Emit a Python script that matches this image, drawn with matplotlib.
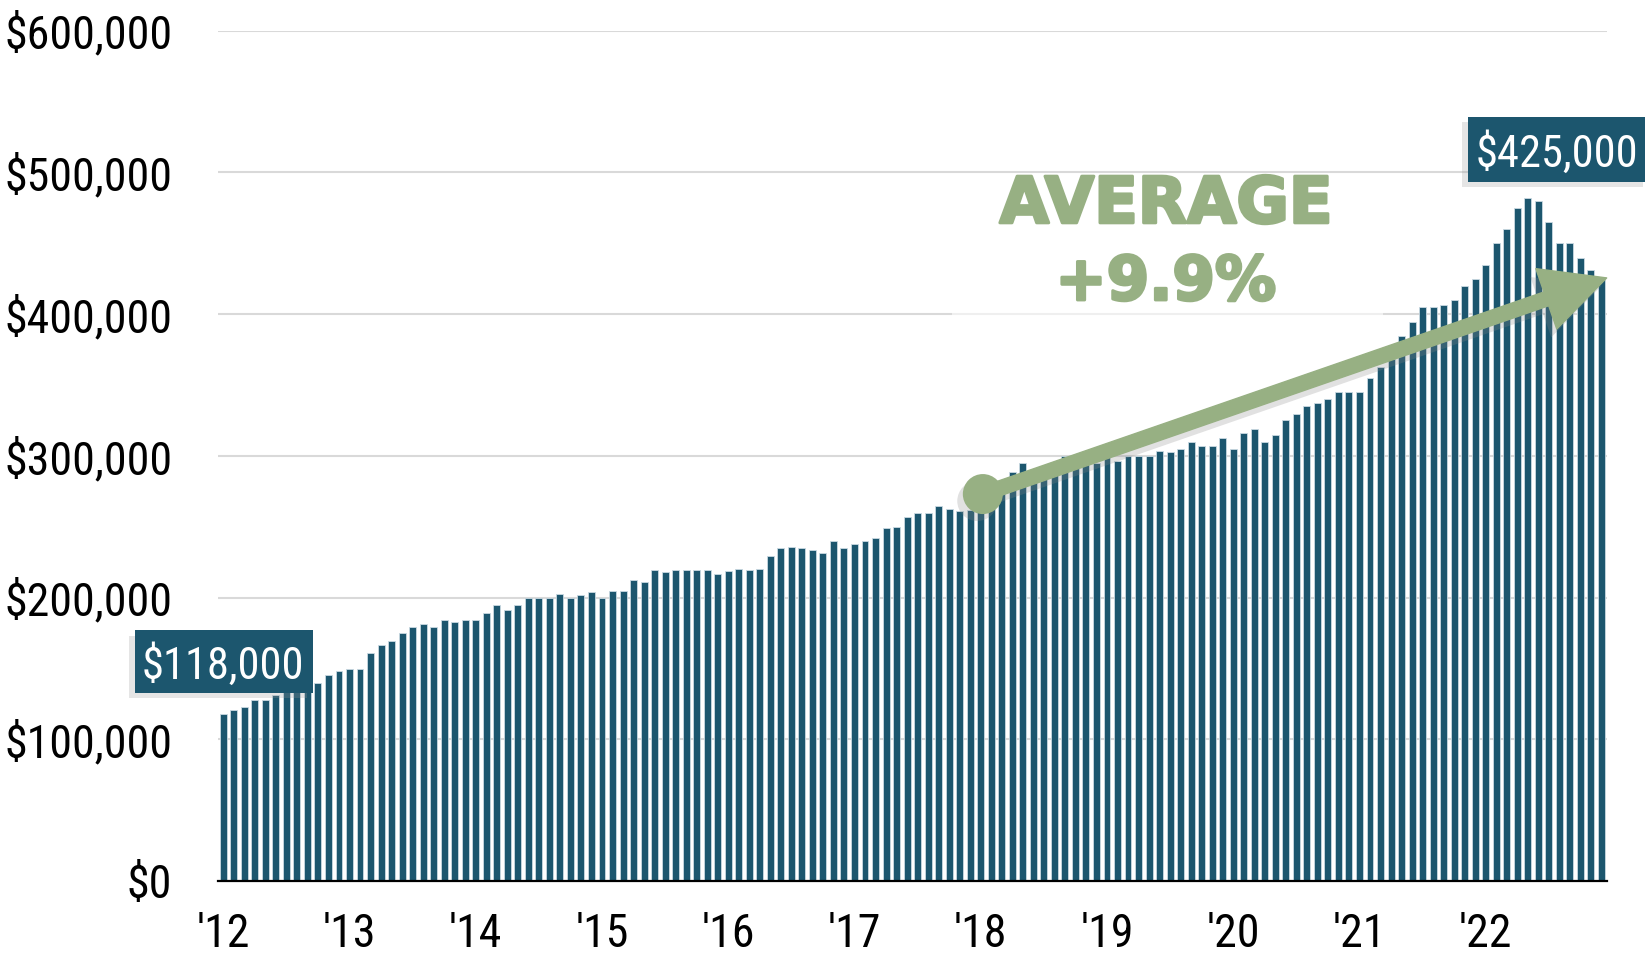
import matplotlib
matplotlib.use("Agg")
import matplotlib.pyplot as plt
from matplotlib.patches import Rectangle, FancyArrowPatch
import matplotlib.patheffects as pe
from matplotlib.ticker import FuncFormatter
from matplotlib import font_manager as fm

# ---------------- data (monthly median price, thousands of $) ----------------
years = ["'12", "'13", "'14", "'15", "'16", "'17", "'18", "'19", "'20", "'21", "'22"]
prices_k = [
    118, 120.7, 122.6, 127.7, 127.7, 131.3, 133, 135, 137, 139.7, 145.4, 148.4,
    149.6, 149.6, 160.7, 166.5, 169.6, 174.8, 179.5, 181.4, 179.5, 184.4, 182.6, 184.4,
    184.4, 189.4, 194.4, 191.5, 194.5, 199.5, 199.7, 199.7, 202.3, 199.5, 201.6, 203.7,
    199.7, 204.7, 204.7, 212.2, 210.8, 219.7, 217.8, 219.7, 219.7, 219.7, 219.7, 216.9,
    218.8, 220.2, 219.7, 220.4, 229.0, 234.8, 235.7, 234.8, 233.4, 231.7, 239.7, 234.8,
    237.8, 239.7, 241.8, 248.9, 249.6, 257.1, 259.5, 259.5, 264.8, 262.7, 261.1, 262.0,
    265.0, 270.0, 276.0, 288.9, 294.8, 288.0, 290.0, 295.0, 299.9, 297.0, 300.0, 295.0,
    299.0, 296.0, 299.9, 299.9, 299.9, 303.7, 302.8, 304.9, 309.6, 306.8, 306.8, 312.6,
    304.9, 315.9, 318.8, 309.8, 315.0, 325.1, 329.8, 335.0, 337.1, 339.9, 344.9, 344.9,
    344.9, 354.8, 362.7, 368.4, 384.6, 394.7, 404.9, 404.9, 406.3, 409.8, 419.9, 424.8,
    434.7, 450.0, 459.9, 474.7, 481.8, 480.1, 464.9, 450.0, 450.0, 439.9, 431.0, 425.0,
]
prices = [v * 1000 for v in prices_k]
start_label = "$118,000"
end_label = "$425,000"
avg_text = ["AVERAGE", "+9.9%"]
y_ticks = [0, 100000, 200000, 300000, 400000, 500000, 600000]

# ---------------- style ----------------
BAR = "#1c566e"
GREEN = "#97b083"

# look for a narrow / condensed sans font; fall back to Liberation Sans at a smaller size
narrow = None
pref_words = ["Liberation Sans Narrow", "Arial Narrow", "Roboto Condensed", "Open Sans Condensed",
              "Noto Sans Condensed", "DejaVu Sans Condensed"]
ttf = fm.fontManager.ttflist
for w in pref_words:
    for f in ttf:
        if f.name == w and f.weight in (400, "normal", "regular") and f.style == "normal":
            narrow = f
            break
    if narrow:
        break
if narrow is None:
    for f in ttf:
        if (f.stretch in ("condensed", "semi-condensed") or "Condensed" in f.name or "Narrow" in f.name) \
                and f.style == "normal" and f.weight in (400, "normal", "regular") and "Mono" not in f.name \
                and "Serif" not in f.name:
            narrow = f
            break

if narrow is not None:
    LBL = dict(fontproperties=fm.FontProperties(fname=narrow.fname))
    TICK_SIZE, BOX_SIZE = 33, 32
else:
    LBL = dict(fontproperties=fm.FontProperties(family="Liberation Sans"))
    TICK_SIZE, BOX_SIZE = 29, 27.5

fig = plt.figure(figsize=(16.45, 9.6), dpi=100)
ax = fig.add_axes([218 / 1645, 1 - 881 / 960, 1388.7 / 1645, (881 - 30.6) / 960])

x = list(range(len(prices)))
ax.bar(x, prices, width=0.66, color=BAR, edgecolor="#c9d9e2", linewidth=0.6, zorder=3)

ax.set_xlim(-0.5, len(prices) - 0.5)
ax.set_ylim(0, 600000)
ax.set_yticks(y_ticks)
ax.yaxis.set_major_formatter(FuncFormatter(lambda v, p: f"${v:,.0f}"))
ax.set_xticks(list(range(0, len(prices), 12)))
ax.set_xticklabels(years)
for lab in ax.get_xticklabels() + ax.get_yticklabels():
    lab.set_fontproperties(LBL["fontproperties"].copy())
    lab.set_fontsize(TICK_SIZE)
    lab.set_color("black")
ax.tick_params(axis="y", length=0, pad=33)
ax.tick_params(axis="x", length=0, pad=22)
ax.grid(axis="y", color="#d9d9d9", linewidth=1.5, zorder=0)
ax.set_axisbelow(True)
for s in ["left", "right", "top"]:
    ax.spines[s].set_visible(False)
ax.spines["bottom"].set_color("black")
ax.spines["bottom"].set_linewidth(1.6)
ax.spines["bottom"].set_zorder(4)

# white veil behind the annotation text
ax.add_patch(Rectangle((69.3, 398000), 40.9, 98000, facecolor="white", alpha=0.6,
                       edgecolor="none", zorder=1))

# ---------------- value boxes ----------------
def value_box(x0, x1, y0, y1, text, tx, ty):
    r = Rectangle((x0, y0), x1 - x0, y1 - y0, facecolor=BAR, edgecolor="none",
                  zorder=6, clip_on=False,
                  path_effects=[pe.SimplePatchShadow(offset=(-4, -4), shadow_rgbFace="#999999", alpha=0.25),
                                pe.Normal()])
    ax.add_patch(r)
    fp = LBL["fontproperties"].copy()
    fp.set_size(BOX_SIZE)
    ax.text(tx, ty, text, color="white", fontproperties=fp,
            ha="center", va="center_baseline", zorder=7, clip_on=False)

value_box(-8.4, 8.5, 132700, 177100, start_label, 0.0, 154900)
value_box(118.3, 135.5, 493300, 539200, end_label, 126.8, 515900)

# ---------------- average arrow ----------------
arrow = FancyArrowPatch((72.2, 273000), (131.5, 425500),
                        arrowstyle="simple,head_length=46,head_width=46,tail_width=10.5",
                        mutation_scale=1, shrinkA=0, shrinkB=0, color=GREEN, zorder=8,
                        clip_on=False,
                        path_effects=[pe.SimplePatchShadow(offset=(-4, -6), shadow_rgbFace="#888888", alpha=0.25),
                                      pe.Normal()])
ax.add_patch(arrow)
ax.scatter([72.2], [273000], s=830, color=GREEN, zorder=9, edgecolors="none",
           path_effects=[pe.SimplePatchShadow(offset=(-4, -5), shadow_rgbFace="#888888", alpha=0.25),
                         pe.Normal()])

stroke = [pe.withStroke(linewidth=2.2, foreground=GREEN)]
ax.text(89.6, 464400, avg_text[0], color=GREEN, fontsize=46, fontweight="bold",
        fontfamily="DejaVu Sans", ha="center", va="baseline", zorder=10, path_effects=stroke)
ax.text(89.6, 410000, avg_text[1], color=GREEN, fontsize=44, fontweight="bold",
        fontfamily="DejaVu Sans", ha="center", va="baseline", zorder=10, path_effects=stroke)

fig.savefig("out.png", dpi=100, facecolor="white")
